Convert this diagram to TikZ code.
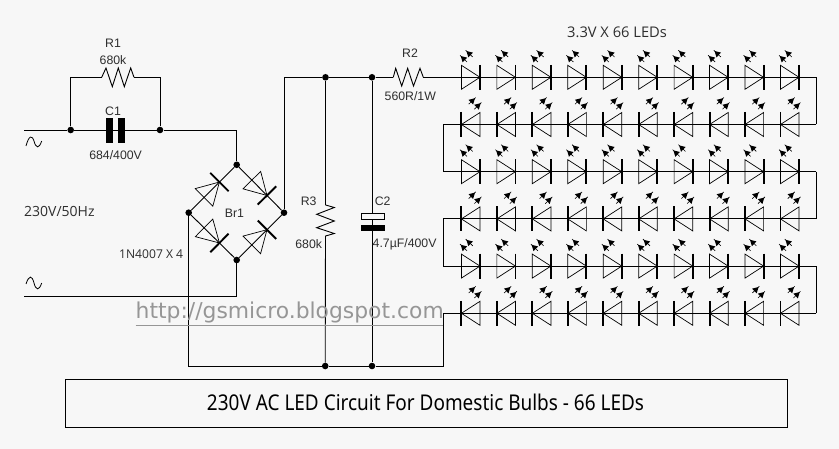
\documentclass[tikz,border=0pt]{standalone}
\usepackage{fontspec}
\setmainfont{Liberation Sans}
\newfontfamily\wmfont{DejaVu Sans}
\newfontfamily\titlefont{Noto Sans}
\newfontfamily\opfont{Open Sans}
\usetikzlibrary{calc}
\definecolor{bgc}{HTML}{F7F7F7}
\definecolor{txt}{HTML}{2E2E2E}
\definecolor{wmc}{HTML}{969696}
\tikzset{
  wire/.style={draw=black,line width=0.9pt,line join=miter},
  thin wire/.style={draw=black,line width=0.7pt},
  junction/.style={circle,fill=black,inner sep=0pt,minimum size=6.6pt},
  lbl/.style={text=txt,inner sep=0pt,font=\fontsize{12.3}{14}\selectfont},
  led/.pic={
    \draw[thin wire] (-9.3,-12) -- (-9.3,12) -- (9.3,0) -- cycle;
    \draw[draw=black,line width=1.9pt] (9.3,-12.5) -- (9.3,12.5);
    \draw[draw=black,line width=0.6pt] (-5,-27) -- (2,-20.3);
    \fill[black] (-4.3,-26.3) -- (-2.38,-19.92) -- (2.18,-24.68) -- cycle;
    \draw[draw=black,line width=0.6pt] (-10.7,-22) -- (-3.7,-15.3);
    \fill[black] (-10,-21.3) -- (-8.08,-14.92) -- (-3.52,-19.68) -- cycle;
  }
}
\newcommand{\bridgediode}[2]{%
  \coordinate (bb) at ($(#1)!.64!(#2)$);
  \coordinate (bm) at ($(#1)!.32!(#2)$);
  \draw[thin wire] ($(bm)!12.4pt!90:(#2)$) -- ($(bm)!12.4pt!-90:(#2)$) -- (bb) -- cycle;
  \draw[draw=black,line width=1.9pt] ($(bb)!13pt!90:(#2)$) -- ($(bb)!13pt!-90:(#2)$);
}
\begin{document}
\begin{tikzpicture}[x=1pt,y=-1pt]
\useasboundingbox (0,0) rectangle (839,449);
\fill[bgc] (0,0) rectangle (839,449);

% junctions
\node[junction] (ja) at (70.7,130) {};
\node[junction] (jb) at (160,130) {};
\node[junction] (top) at (236.7,164.8) {};
\node[junction] (left) at (188.7,212.7) {};
\node[junction] (right) at (284,212.7) {};
\node[junction] (bot) at (236.7,260) {};
\node[junction] (jc) at (325.5,77.3) {};
\node[junction] (jd) at (372,77.3) {};
\node[junction] (je) at (325.2,366) {};
\node[junction] (jf) at (372,366) {};

% free ends
\coordinate (in1) at (24,130);
\coordinate (in2) at (24,296.5);
\coordinate (r2a) at (393.3,77.3);
\coordinate (r2b) at (423.3,77.3);
\coordinate (r1a) at (101.7,77.3);
\coordinate (r1b) at (134,77.3);
\coordinate (r3a) at (325.5,205);
\coordinate (r3b) at (325.5,236);
\foreach \n/\yy in {1/77.3,2/124.5,3/171.7,4/218.9,5/266.1,6/313.3}{
  \coordinate (L\n) at (443.3,\yy);
  \coordinate (R\n) at (816.3,\yy);
}

% input section
\draw[wire] (in1) -- (ja);
\draw[wire] (ja) -- (jb);
\draw[wire] (jb) -| (top);
\draw[wire] (ja) |- (r1a);
\draw[wire] (jb) |- (r1b);
\draw[wire] (r1a) -- (106,68) -- (112.3,86.7) -- (118.3,68) -- (124.3,86.7) -- (130.7,68) -- (r1b);
\fill[black] (106,118) rectangle (112.7,142.7);
\fill[black] (118.3,118) rectangle (125,142.7);
\draw[wire] (in2) -| (bot);

% bridge
\draw[wire] (left) -- (top);
\draw[wire] (top) -- (right);
\draw[wire] (left) -- (bot);
\draw[wire] (bot) -- (right);
\bridgediode{left}{top}
\bridgediode{top}{right}
\bridgediode{left}{bot}
\bridgediode{bot}{right}

% DC rails
\draw[wire] (right) |- (jc);
\draw[wire] (jc) -- (jd);
\draw[wire] (jd) -- (r2a);
\draw[wire] (r2a) -- (395.7,68.3) -- (401.7,86) -- (407.7,68.3) -- (413.5,86) -- (420,68.3) -- (r2b);
\draw[wire] (r2b) -- (R1);
\draw[wire] (jc) -- (r3a);
\draw[wire] (r3a) -- (334.3,207.5) -- (316.7,214.3) -- (334.3,221) -- (316.7,227.7) -- (334.3,233.5) -- (r3b);
\draw[wire] (r3b) -- (je);
\draw[wire] (jd) -- (jf);
\fill[bgc] (361.3,213) rectangle (384.3,219.3);
\draw[thin wire] (361.3,213) rectangle (384.3,219.3);
\fill[black] (361.2,225.3) rectangle (384.8,231);
\draw[wire] (left) |- (je);
\draw[wire] (je) -- (jf);
\draw[wire] (jf) -| (L6);

% LED strings
\draw[wire] (R1) -- (R2);
\draw[wire] (R2) -- (L2);
\draw[wire] (L2) -- (L3);
\draw[wire] (L3) -- (R3);
\draw[wire] (R3) -- (R4);
\draw[wire] (R4) -- (L4);
\draw[wire] (L4) -- (L5);
\draw[wire] (L5) -- (R5);
\draw[wire] (R5) -- (R6);
\draw[wire] (R6) -- (L6);
\foreach \yy/\mm in {77.3/1,124.5/-1,171.7/1,218.9/-1,266.1/1,313.3/-1}{
  \foreach \i in {0,...,9}{
    \pic[xscale=\mm] at ({470.7+35.45*\i},\yy) {led};
  }
}

% sine symbols
\draw[wire,line width=0.8pt] (26,146) .. controls (29,135) and (32,135) .. (34,141) .. controls (36,148.5) and (39,149) .. (41.7,141);
\draw[wire,line width=0.8pt] (26,284) .. controls (29,275) and (32,275) .. (34,283) .. controls (36,290.5) and (39,291) .. (41.7,283);

% labels
\node[lbl] (tr1) at (113,43) {R1};
\node[lbl] (v680a) at (113,60) {680k};
\node[lbl] (tc1) at (113,111) {C1};
\node[lbl] (v684) at (115.6,155) {684/400V};
\node[lbl,font=\opfont\fontsize{14}{16}\selectfont,anchor=west] (v230) at (24,211) {230V/50Hz};
\node[lbl,font=\opfont\fontsize{12.1}{14}\selectfont,anchor=west] (n4007) at (119,254.5) {1N4007 X 4};
\node[lbl] (br1) at (234.5,213.5) {Br1};
\node[lbl] (tr3) at (308.7,201.7) {R3};
\node[lbl] (v680b) at (308.7,244) {680k};
\node[lbl] (tc2) at (382.7,201.7) {C2};
\node[lbl,anchor=west] (v47) at (372.5,244) {4.7µF/400V};
\node[lbl] (tr2) at (410,53.3) {R2};
\node[lbl] (v560) at (410.3,96) {560R/1W};
\node[lbl,font=\opfont\fontsize{14.7}{16}\selectfont,anchor=west] (t33) at (567,32.5) {3.3V X 66 LEDs};

% title
\node[draw=black,line width=1pt,minimum width=721.3pt,minimum height=47.8pt,inner sep=0pt,anchor=north west] (titlebox) at (65.2,378.7) {};
\node[inner sep=0pt,text=black] (title) at (425.5,402.5) {\resizebox{437pt}{16.5pt}{\titlefont 230V AC LED Circuit For Domestic Bulbs - 66 LEDs}};

% watermark
\node[inner sep=0pt,text=wmc,anchor=base west] (wm) at (135.5,318.5) {\resizebox{308pt}{!}{\wmfont http://gsmicro.blogspot.com}};
\draw[wmc,line width=0.8pt] (135.5,325) -- (443,325);
\end{tikzpicture}
\end{document}
